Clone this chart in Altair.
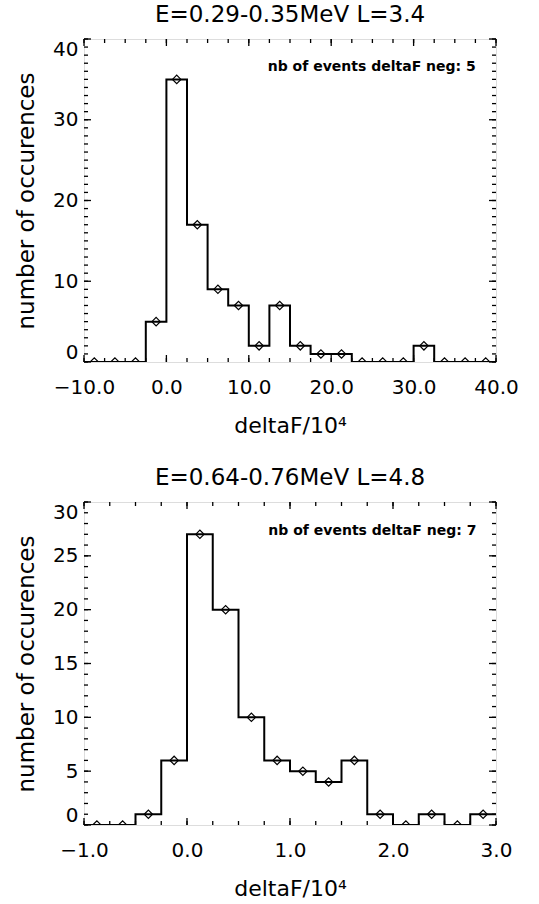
import altair as alt
import numpy as np
import pandas as pd

FONT = "DejaVu Sans"

# ---- Panel 1 data ----
title1 = "E=0.29-0.35MeV L=3.4"
centers1 = [-8.75, -6.25, -3.75, -1.25, 1.25, 3.75, 6.25, 8.75, 11.25, 13.75,
            16.25, 18.75, 21.25, 23.75, 26.25, 28.75, 31.25, 33.75, 36.25, 38.75]
counts1 = [0, 0, 0, 5, 35, 17, 9, 7, 2, 7, 2, 1, 1, 0, 0, 0, 2, 0, 0, 0]
binw1 = 2.5
xdom1 = [-10, 40]
ydom1 = [0, 40]
xmajor1 = [-10, 0, 10, 20, 30, 40]
ymajor1 = [0, 10, 20, 30, 40]
xminor_step1 = 2.5
yminor_step1 = 1
note1 = "nb of events deltaF neg: 5"
note1_pos = [12.3, 36.5]

# ---- Panel 2 data ----
title2 = "E=0.64-0.76MeV L=4.8"
centers2 = [-0.875, -0.625, -0.375, -0.125, 0.125, 0.375, 0.625, 0.875,
            1.125, 1.375, 1.625, 1.875, 2.125, 2.375, 2.625, 2.875]
counts2 = [0, 0, 1, 6, 27, 20, 10, 6, 5, 4, 6, 1, 0, 1, 0, 1]
binw2 = 0.25
xdom2 = [-1, 3]
ydom2 = [0, 30]
xmajor2 = [-1, 0, 1, 2, 3]
ymajor2 = [0, 5, 10, 15, 20, 25, 30]
xminor_step2 = 0.25
yminor_step2 = 1
note2 = "nb of events deltaF neg: 7"
note2_pos = [0.79, 27.3]

XTITLE = "deltaF/10⁴"
YTITLE = "number of occurences"


def panel(title, centers, counts, w, xdom, ydom, xmaj, ymaj, xstep, ystep,
          note, note_pos, W, H):
    edges = [c - w / 2 for c in centers] + [centers[-1] + w / 2]
    step_df = pd.DataFrame({"x": edges, "y": counts + [counts[-1]]})
    pt_df = pd.DataFrame({"x": centers, "y": counts})

    xs = alt.Scale(domain=xdom, nice=False, zero=False)
    ys = alt.Scale(domain=ydom, nice=False, zero=False)
    xaxis = alt.Axis(values=xmaj, format=".1f", title=XTITLE, ticks=False,
                     domain=False, grid=False, labelFont=FONT, labelFontSize=20,
                     labelColor="black", labelPadding=15, labelFlush=False,
                     labelOverlap=False, titleFont=FONT, titleFontSize=22,
                     titleFontWeight="normal", titleColor="black", titlePadding=18)
    yaxis = alt.Axis(values=ymaj, format="d", title=YTITLE, ticks=False,
                     domain=False, grid=False, labelFont=FONT, labelFontSize=20,
                     labelColor="black", labelPadding=6, labelFlush=True,
                     labelOverlap=False, titleFont=FONT, titleFontSize=23,
                     titleFontWeight="normal", titleColor="black", titlePadding=14)
    X = alt.X("x:Q", scale=xs, axis=xaxis)
    Y = alt.Y("y:Q", scale=ys, axis=yaxis)

    line = alt.Chart(step_df).mark_line(interpolate="step-after", color="black",
                                        strokeWidth=2, clip=True).encode(x=X, y=Y)
    pts = alt.Chart(pt_df).mark_point(shape="diamond", filled=False, color="black",
                                      size=70, strokeWidth=1.2, opacity=1,
                                      clip=True).encode(x=X, y=Y)

    xminor = [v for v in np.arange(xdom[0], xdom[1] + 1e-9, xstep)]
    yminor = [v for v in np.arange(ydom[0], ydom[1] + 1e-9, ystep)]
    layers = [line, pts]
    for vals, L in ((xmaj, 7), (xminor, 4)):
        d = pd.DataFrame({"x": vals})
        layers.append(alt.Chart(d).mark_rule(color="black", strokeWidth=1.3).encode(
            x=X, y=alt.value(H), y2=alt.value(H - L)))
        layers.append(alt.Chart(d).mark_rule(color="black", strokeWidth=1.3).encode(
            x=X, y=alt.value(0), y2=alt.value(L)))
    for vals, L in ((ymaj, 7), (yminor, 4)):
        d = pd.DataFrame({"y": vals})
        layers.append(alt.Chart(d).mark_rule(color="black", strokeWidth=1.3).encode(
            y=Y, x=alt.value(0), x2=alt.value(L)))
        layers.append(alt.Chart(d).mark_rule(color="black", strokeWidth=1.3).encode(
            y=Y, x=alt.value(W), x2=alt.value(W - L)))

    nd = pd.DataFrame({"x": [note_pos[0]], "y": [note_pos[1]], "t": [note]})
    layers.append(alt.Chart(nd).mark_text(align="left", baseline="middle", font=FONT,
                                          fontSize=14, fontWeight="bold",
                                          color="black").encode(x=X, y=Y, text="t:N"))

    return alt.layer(*layers).properties(
        width=W, height=H,
        title=alt.TitleParams(title, font=FONT, fontSize=23, fontWeight="normal",
                              color="black", anchor="middle", offset=11))


p1 = panel(title1, centers1, counts1, binw1, xdom1, ydom1, xmajor1, ymajor1,
           xminor_step1, yminor_step1, note1, note1_pos, 412, 323)
p2 = panel(title2, centers2, counts2, binw2, xdom2, ydom2, xmajor2, ymajor2,
           xminor_step2, yminor_step2, note2, note2_pos, 412, 323)

chart = alt.vconcat(p1, p2, spacing=29).properties(
    padding={"left": 15, "top": 3, "right": 5, "bottom": 5}
).configure_view(stroke="black", strokeWidth=2).configure(background="white")

chart.save("out.html", embed_options={"renderer": "svg", "actions": False})
